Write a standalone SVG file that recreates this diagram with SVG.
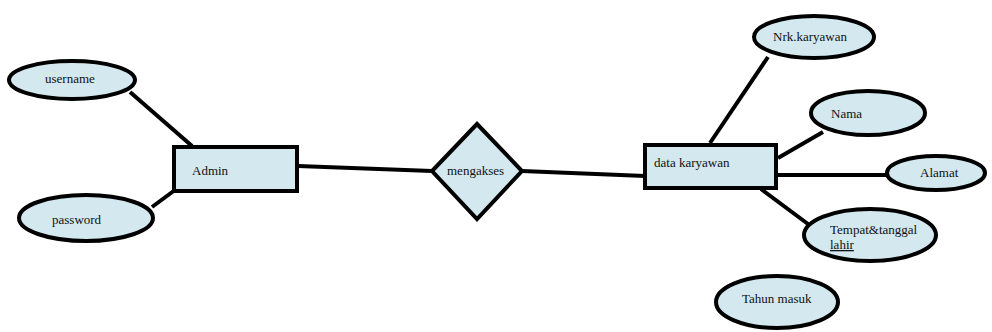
<svg xmlns="http://www.w3.org/2000/svg" width="992" height="332" viewBox="0 0 992 332">
  <style>
    .shape { fill: #d3e8ef; stroke: #000; stroke-width: 4; }
    .link { stroke: #000; stroke-width: 4; fill: none; }
    .dot { fill: #000; }
    .label { font-family: 'Liberation Serif', 'Times New Roman', serif; font-size: 13px; fill: #111; }
  </style>
  <rect width="992" height="332" fill="#fff"/>

  <!-- connectors -->
  <g id="connectors">
    <line class="link" x1="130" y1="92" x2="192" y2="146"/>
    <line class="link" x1="152" y1="207" x2="175" y2="190"/>
    <line class="link" x1="298" y1="166" x2="432" y2="171"/>
    <line class="link" x1="522" y1="171" x2="645" y2="176"/>
    <line class="link" x1="768" y1="57" x2="710" y2="143"/>
    <line class="link" x1="823" y1="132" x2="778" y2="158"/>
    <line class="link" x1="776" y1="175" x2="888" y2="175"/>
    <line class="link" x1="761" y1="189" x2="808" y2="224"/>
    <circle class="dot" cx="645" cy="176" r="2.5"/>
    <circle class="dot" cx="775" cy="175" r="2.5"/>
  </g>

  <!-- entity: Admin -->
  <g id="admin">
    <rect class="shape" x="174" y="147" width="123" height="44"/>
    <text class="label" x="192" y="175">Admin</text>
  </g>

  <g id="attr-username">
    <ellipse class="shape" cx="72" cy="80" rx="63" ry="19"/>
    <text class="label" x="45" y="83">username</text>
  </g>

  <g id="attr-password">
    <ellipse class="shape" cx="86" cy="218" rx="67" ry="23"/>
    <text class="label" x="52" y="224">password</text>
  </g>

  <!-- relationship -->
  <g id="mengakses">
    <polygon class="shape" points="477,124 522,171 477,219 432,171"/>
    <text class="label" x="447" y="175">mengakses</text>
  </g>

  <!-- entity: data karyawan -->
  <g id="data-karyawan">
    <rect class="shape" x="645" y="145" width="131" height="43"/>
    <text class="label" x="654" y="167">data karyawan</text>
  </g>

  <g id="attr-nrk">
    <ellipse class="shape" cx="814" cy="37" rx="60" ry="21"/>
    <text class="label" x="773" y="41">Nrk.karyawan</text>
  </g>

  <g id="attr-nama">
    <ellipse class="shape" cx="868" cy="113" rx="57" ry="22"/>
    <text class="label" x="831" y="118">Nama</text>
  </g>

  <g id="attr-alamat">
    <ellipse class="shape" cx="936" cy="173" rx="49" ry="17"/>
    <text class="label" x="920" y="177">Alamat</text>
  </g>

  <g id="attr-tempat">
    <ellipse class="shape" cx="870" cy="235" rx="66" ry="26"/>
    <text class="label" x="830" y="234">Tempat&amp;tanggal</text>
    <text class="label" x="830" y="249" text-decoration="underline">lahir</text>
  </g>

  <g id="attr-tahun">
    <ellipse class="shape" cx="777" cy="302" rx="61" ry="26"/>
    <text class="label" x="742" y="303">Tahun masuk</text>
  </g>
</svg>
